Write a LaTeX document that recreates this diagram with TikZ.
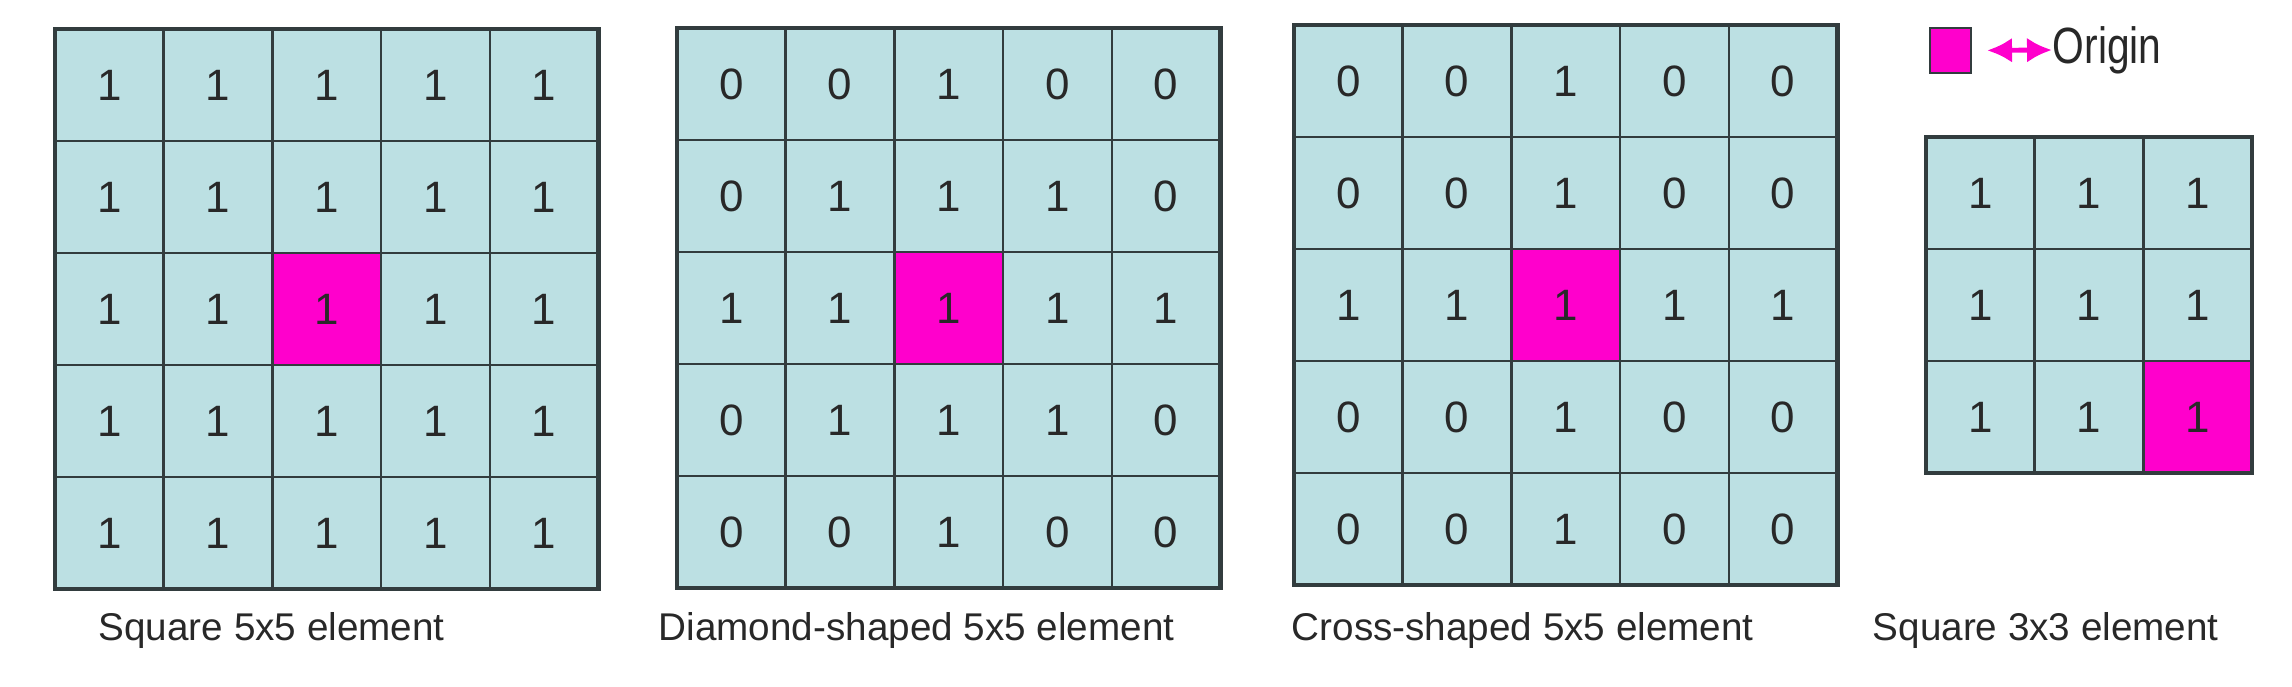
\documentclass[tikz,border=0pt]{standalone}
\usepackage{fontspec}
\setmainfont{Liberation Sans}
\newfontfamily\keyfont[FakeStretch=0.8]{Liberation Sans}
\usetikzlibrary{arrows.meta}

\definecolor{cellfill}{RGB}{188,224,227}
\definecolor{cellline}{RGB}{50,60,62}
\definecolor{origin}{RGB}{255,0,204}
\definecolor{inkgray}{RGB}{40,40,40}

\newcommand{\cellw}{1.087}
\newcommand{\cellh}{1.12}

\begin{document}
\begin{tikzpicture}[x=1cm, y=1cm,
  cell/.style = {draw=cellline, fill=cellfill, line width=0.7pt, minimum width=\cellw cm, minimum height=\cellh cm, inner sep=0pt, outer sep=0pt, text=inkgray, font=\fontsize{12.5}{14}\selectfont},
  orig/.style = {cell, fill=origin},
  frame/.style = {draw=cellline, line width=1.3pt},
  caption/.style = {anchor=base west, inner sep=0pt, text=inkgray, font=\fontsize{11}{13}\selectfont}]

\useasboundingbox (0,0) rectangle (22.92,6.86);

% Square 5x5
\foreach \r/\vals in {1/{1,1,1,1,1},2/{1,1,1,1,1},3/{1,1,1,1,1},4/{1,1,1,1,1},5/{1,1,1,1,1}} {
  \foreach \v [count=\c] in \vals {
    \node[cell] (sq-\r-\c) at ({0.55+(\c-0.5)*\cellw}, {6.57-(\r-0.5)*\cellh}) {\v};
  }
}
\node[orig] (sq-o) at (sq-3-3) {1};
\draw[frame] (sq-1-1.north west) rectangle (sq-5-5.south east);

% Diamond 5x5
\foreach \r/\vals in {1/{0,0,1,0,0},2/{0,1,1,1,0},3/{1,1,1,1,1},4/{0,1,1,1,0},5/{0,0,1,0,0}} {
  \foreach \v [count=\c] in \vals {
    \node[cell] (dm-\r-\c) at ({6.77+(\c-0.5)*\cellw}, {6.58-(\r-0.5)*\cellh}) {\v};
  }
}
\node[orig] (dm-o) at (dm-3-3) {1};
\draw[frame] (dm-1-1.north west) rectangle (dm-5-5.south east);

% Cross 5x5
\foreach \r/\vals in {1/{0,0,1,0,0},2/{0,0,1,0,0},3/{1,1,1,1,1},4/{0,0,1,0,0},5/{0,0,1,0,0}} {
  \foreach \v [count=\c] in \vals {
    \node[cell] (cr-\r-\c) at ({12.94+(\c-0.5)*\cellw}, {6.61-(\r-0.5)*\cellh}) {\v};
  }
}
\node[orig] (cr-o) at (cr-3-3) {1};
\draw[frame] (cr-1-1.north west) rectangle (cr-5-5.south east);

% Square 3x3
\foreach \r/\vals in {1/{1,1,1},2/{1,1,1},3/{1,1,1}} {
  \foreach \v [count=\c] in \vals {
    \node[cell] (st-\r-\c) at ({19.26+(\c-0.5)*\cellw}, {5.49-(\r-0.5)*\cellh}) {\v};
  }
}
\node[orig] (st-o) at (st-3-3) {1};
\draw[frame] (st-1-1.north west) rectangle (st-3-3.south east);

% Legend
\node[orig, minimum width=0.41cm, minimum height=0.45cm] (key) at (19.505, 6.355) {};
\node[anchor=west, inner sep=0pt, text=inkgray, font=\keyfont\fontsize{14.5}{16}\selectfont] (keytxt) at (20.52, 6.36) {Origin};
\draw[{Latex[length=0.25cm,width=0.25cm]}-{Latex[length=0.25cm,width=0.25cm]}, origin, line width=1.4pt, shorten <=0.16cm] (key.east) -- (keytxt.west);

% Captions
\node[caption] (cap-sq) at (0.98, 0.46) {Square 5x5 element};
\node[caption] (cap-dm) at (6.58, 0.46) {Diamond-shaped 5x5 element};
\node[caption] (cap-cr) at (12.91, 0.46) {Cross-shaped 5x5 element};
\node[caption] (cap-st) at (18.72, 0.46) {Square 3x3 element};

\end{tikzpicture}
\end{document}
